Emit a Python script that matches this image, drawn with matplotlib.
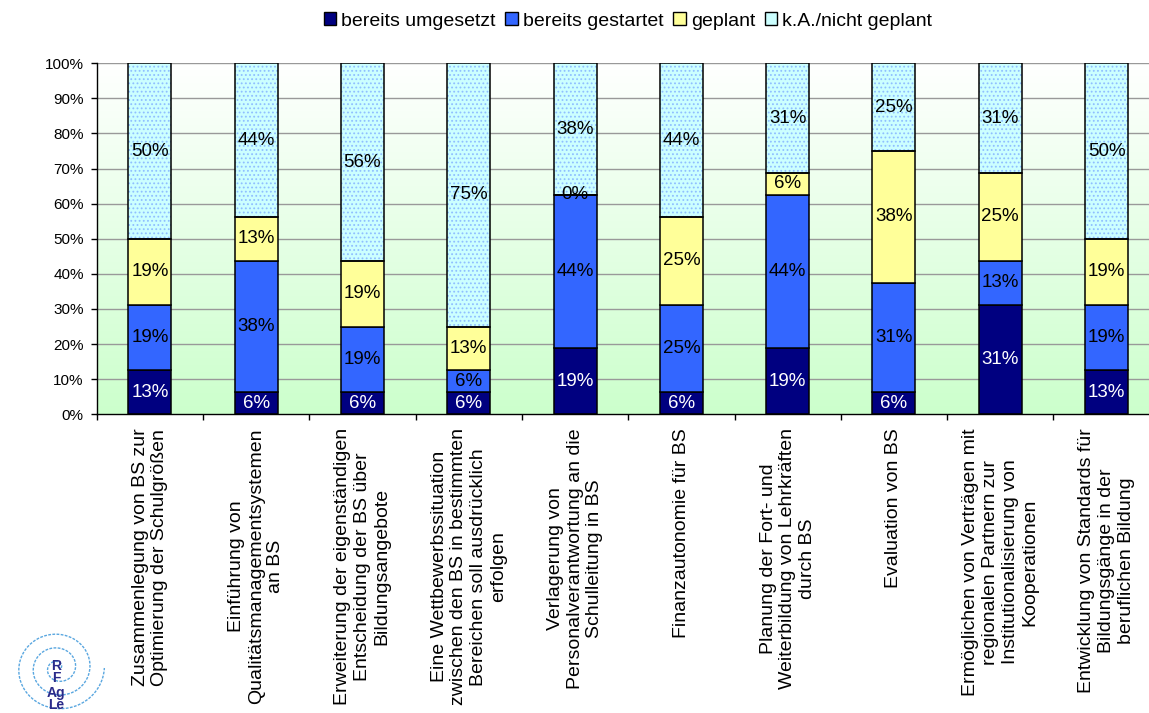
import numpy as np
import matplotlib
matplotlib.use("Agg")
import matplotlib.pyplot as plt
from matplotlib.colors import LinearSegmentedColormap
from matplotlib.patches import Patch

plt.rcParams['font.family'] = ['Liberation Sans', 'DejaVu Sans']
plt.rcParams['hatch.linewidth'] = 0.8

categories = [
    "Zusammenlegung von BS zur\nOptimierung der Schulgrößen",
    "Einführung von\nQualitätsmanagementsystemen\nan BS",
    "Erweiterung der eigenständigen\nEntscheidung der BS über\nBildungsangebote",
    "Eine Wettbewerbssituation\nzwischen den BS in bestimmten\nBereichen soll ausdrücklich\nerfolgen",
    "Verlagerung von\nPersonalverantwortung an die\nSchulleitung in BS",
    "Finanzautonomie für BS",
    "Planung der Fort- und\nWeiterbildung von Lehrkräften\ndurch BS",
    "Evaluation von BS",
    "Ermöglichen von Verträgen mit\nregionalen Partnern zur\nInstitutionalisierung von\nKooperationen",
    "Entwicklung von Standards für\nBildungsgänge in der\nberuflichen Bildung",
]

series_names = ["bereits umgesetzt", "bereits gestartet", "geplant", "k.A./nicht geplant"]

# shares in percent (16 respondents -> steps of 6.25 %)
umgesetzt = [12.5, 6.25, 6.25, 6.25, 18.75, 6.25, 18.75, 6.25, 31.25, 12.5]
gestartet = [18.75, 37.5, 18.75, 6.25, 43.75, 25.0, 43.75, 31.25, 12.5, 18.75]
geplant = [18.75, 12.5, 18.75, 12.5, 0.0, 25.0, 6.25, 37.5, 25.0, 18.75]
nicht_geplant = [50.0, 43.75, 56.25, 75.0, 37.5, 43.75, 31.25, 25.0, 31.25, 50.0]

colors = ["#000080", "#3366ff", "#ffff99", "#ccffff"]
text_colors = ["white", "black", "black", "black"]

W, H = 1149, 713
fig = plt.figure(figsize=(W / 100, H / 100), dpi=100)
ax = fig.add_axes([96.7 / W, (H - 414.3) / H, 1063 / W, 351 / H])

n = len(categories)
x = np.arange(n)
ax.set_xlim(-0.5, n - 0.5)
ax.set_ylim(0, 100)

# white-to-green background of the plot area
bg = LinearSegmentedColormap.from_list("bg", ["#ccffcc", "#ffffff"])
ax.imshow(np.linspace(0, 1, 256).reshape(-1, 1), cmap=bg, aspect="auto",
          extent=[-0.5, n - 0.5, 0, 100], origin="lower", zorder=0)

for yv in range(10, 101, 10):
    ax.axhline(yv, color="#999999", lw=1.0, zorder=1)

bw = 0.405
bottom = np.zeros(n)
for vals, name, c, tc in zip([umgesetzt, gestartet, geplant, nicht_geplant],
                             series_names, colors, text_colors):
    vals = np.array(vals)
    if name == "k.A./nicht geplant":
        ax.bar(x, vals, bw, bottom=bottom, color=c, edgecolor="#8fbfff",
               lw=0, hatch="....", zorder=2)
        ax.bar(x, vals, bw, bottom=bottom, fill=False, edgecolor="black",
               lw=1.1, zorder=3)
    else:
        ax.bar(x, vals, bw, bottom=bottom, color=c, edgecolor="black",
               lw=1.1, zorder=3)
    for xi, b, v in zip(x, bottom, vals):
        ax.text(xi, b + v / 2, "%d%%" % int(np.floor(v + 0.5)), ha="center",
                va="center", fontsize=13.5, color=tc, zorder=4)
    bottom += vals

ax.set_yticks(range(0, 101, 10))
ax.set_yticklabels(["%d%%" % v for v in range(0, 101, 10)], fontsize=11)
ax.set_xticks(x)
ax.set_xticklabels(categories, rotation=90, fontsize=14, ha="center",
                   va="top", multialignment="center")
ax.set_xticks(np.arange(-0.5, n, 1.0), minor=True)
ax.tick_params(axis="x", which="major", length=0, pad=10)
ax.tick_params(axis="x", which="minor", length=4.3, width=1, color="black")
ax.tick_params(axis="y", length=4.3, width=1, pad=5, color="black")

for s in ["top", "right"]:
    ax.spines[s].set_visible(False)
for s in ["left", "bottom"]:
    ax.spines[s].set_color("black")
    ax.spines[s].set_linewidth(1)
    ax.spines[s].set_zorder(5)

handles = [Patch(facecolor=c, edgecolor="black", lw=1) for c in colors]
fig.legend(handles, series_names, loc="center", ncol=4, frameon=False,
           bbox_to_anchor=(628 / W, 1 - 21 / H), fontsize=14,
           handlelength=0.65, handleheight=0.65, handletextpad=0.25,
           columnspacing=0.5)

# small spiral logo in the lower left corner
lax = fig.add_axes([0, 0, 115 / W, 113 / H])
lax.set_xlim(0, 115)
lax.set_ylim(0, 113)
lax.axis("off")
t = np.linspace(0, 6 * np.pi, 600)
r = 3 + 2.3 * t
lax.plot(58 + r * np.cos(t), 45 + r * np.sin(t) * 0.95, color="#5aa7e0",
         lw=1.0, ls=(0, (2, 1)))
for lbl, yy in [("R", 40), ("F", 28), ("Ag", 13), ("Le", 1)]:
    lax.text(56, yy, lbl, fontsize=10, fontweight="bold", color="#2a2a8a",
             ha="center", va="bottom")

fig.savefig("out.png", dpi=100)
